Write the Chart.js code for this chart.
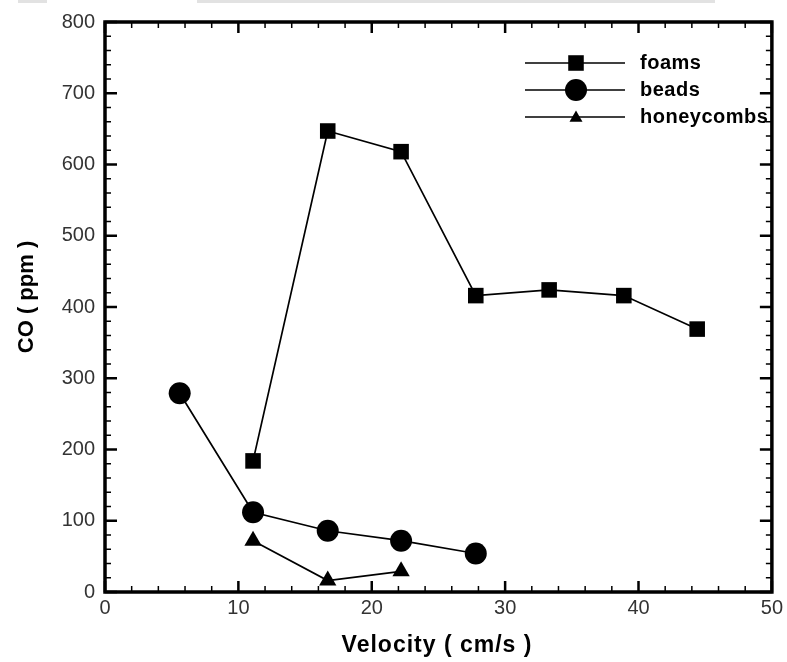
<!DOCTYPE html>
<html>
<head>
<meta charset="utf-8">
<script src="https://cdn.jsdelivr.net/npm/chart.js@4/dist/chart.umd.min.js"></script>
<style>
    html, body { margin: 0; padding: 0; background: #fff; }
    #wrap { position: relative; width: 787px; height: 662px; }
    .strip { position: absolute; top: 0; height: 3px; background: #e2e2e2; }
</style>
</head>
<body>
<div id="wrap">
    <canvas id="coChart" width="787" height="662"></canvas>
    <div class="strip" style="left:18px;width:29px"></div>
    <div class="strip" style="left:197px;width:518px"></div>
</div>
<script>
// Data
const foamsVel = [11.1, 16.7, 22.2, 27.8, 33.3, 38.9, 44.4];
const foamsCO = [184, 647, 618, 416, 424, 416, 369];
const beadsVel = [5.6, 11.1, 16.7, 22.2, 27.8];
const beadsCO = [279, 112, 86, 72, 54];
const honeyVel = [11.1, 16.7, 22.2];
const honeyCO = [72, 16, 29];

const seriesNames = ['foams', 'beads', 'honeycombs'];
const xTitle = 'Velocity ( cm/s )';
const yTitle = 'CO ( ppm )';

const toPoints = (xs, ys) => xs.map((x, i) => ({ x: x, y: ys[i] }));

// Frame, inward ticks, titles and legend
const framePlugin = {
    id: 'frame',
    afterDraw(chart) {
        const ctx = chart.ctx;
        const a = chart.chartArea;
        const xs = chart.scales.x;
        const ys = chart.scales.y;
        ctx.save();
        ctx.strokeStyle = '#000';

        // ticks
        for (let v = 0; v <= 50; v += 2) {
            const px = xs.getPixelForValue(v);
            const major = v % 10 === 0;
            const len = major ? 11 : 6;
            ctx.lineWidth = major ? 2.5 : 1.5;
            ctx.beginPath();
            ctx.moveTo(px, a.bottom); ctx.lineTo(px, a.bottom - len);
            ctx.moveTo(px, a.top); ctx.lineTo(px, a.top + len);
            ctx.stroke();
        }
        for (let v = 0; v <= 800; v += 20) {
            const py = ys.getPixelForValue(v);
            const major = v % 100 === 0;
            const len = major ? 12 : 6;
            ctx.lineWidth = major ? 2.5 : 1.5;
            ctx.beginPath();
            ctx.moveTo(a.left, py); ctx.lineTo(a.left + len, py);
            ctx.moveTo(a.right, py); ctx.lineTo(a.right - len, py);
            ctx.stroke();
        }

        // frame
        ctx.lineWidth = 3.5;
        ctx.strokeRect(a.left, a.top, a.right - a.left, a.bottom - a.top);

        // axis titles
        ctx.fillStyle = '#000';
        ctx.font = 'bold 23px "Liberation Sans", Arial, sans-serif';
        ctx.textAlign = 'center';
        ctx.textBaseline = 'alphabetic';
        ctx.letterSpacing = '1px';
        ctx.fillText(xTitle, 437, 652);
        ctx.letterSpacing = '0px';
        ctx.font = 'bold 22px "Liberation Sans", Arial, sans-serif';
        ctx.save();
        ctx.translate(33, 297);
        ctx.rotate(-Math.PI / 2);
        ctx.fillText(yTitle, 0, 0);
        ctx.restore();

        // legend
        const rows = [63, 90, 117];
        ctx.font = 'bold 20px "Liberation Sans", Arial, sans-serif';
        ctx.letterSpacing = '0.5px';
        ctx.textAlign = 'left';
        ctx.textBaseline = 'middle';
        chart.data.datasets.forEach((ds, i) => {
            const y = rows[i];
            ctx.lineWidth = 1.5;
            ctx.beginPath();
            ctx.moveTo(525, y); ctx.lineTo(625, y);
            ctx.stroke();
            ctx.fillStyle = '#000';
            const tri = ds.pointStyle === 'triangle';
            const r = tri ? 7.5 : ds.pointRadius;
            Chart.helpers.drawPoint(ctx, { pointStyle: ds.pointStyle, radius: r, rotation: 0, borderWidth: 0 }, 576, tri ? y + 1 : y);
            ctx.fillText(ds.label, 640, y);
        });
        ctx.restore();
    }
};

const common = {
    showLine: true,
    borderColor: '#000',
    backgroundColor: '#000',
    pointBackgroundColor: '#000',
    pointBorderColor: '#000',
    borderWidth: 1.7,
    pointBorderWidth: 0,
    pointHoverRadius: 0,
    tension: 0
};

new Chart(document.getElementById('coChart'), {
    type: 'scatter',
    data: {
        datasets: [
            Object.assign({}, common, {
                label: seriesNames[0],
                data: toPoints(foamsVel, foamsCO),
                pointStyle: 'rect',
                pointRadius: 11
            }),
            Object.assign({}, common, {
                label: seriesNames[1],
                data: toPoints(beadsVel, beadsCO),
                pointStyle: 'circle',
                pointRadius: 11
            }),
            Object.assign({}, common, {
                label: seriesNames[2],
                data: toPoints(honeyVel, honeyCO),
                pointStyle: 'triangle',
                pointRadius: 10
            })
        ]
    },
    options: {
        responsive: false,
        animation: false,
        events: [],
        layout: { padding: { top: 18, right: 14, left: 0, bottom: 0 } },
        plugins: {
            legend: { display: false },
            tooltip: { enabled: false }
        },
        scales: {
            x: {
                type: 'linear',
                min: 0,
                max: 50,
                grid: { display: false, drawTicks: false },
                border: { display: false },
                ticks: {
                    stepSize: 10,
                    padding: 4,
                    color: '#333',
                    font: { family: '"Liberation Sans", Arial, sans-serif', size: 20 }
                },
                afterFit(scale) { scale.height = 70; }
            },
            y: {
                min: 0,
                max: 800,
                grid: { display: false, drawTicks: false },
                border: { display: false },
                ticks: {
                    stepSize: 100,
                    padding: 10,
                    color: '#333',
                    font: { family: '"Liberation Sans", Arial, sans-serif', size: 20 }
                },
                afterFit(scale) { scale.width = 105; }
            }
        }
    },
    plugins: [framePlugin]
});
</script>
</body>
</html>
